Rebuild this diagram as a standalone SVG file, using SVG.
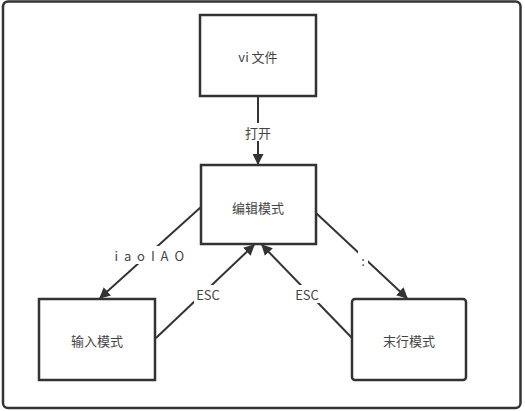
<svg xmlns="http://www.w3.org/2000/svg" width="525" height="411" viewBox="0 0 525 411">
<defs>
<style>
.box{fill:#fff;stroke:#333;stroke-width:2.5}
.t{font-family:"Microsoft YaHei","Noto Sans CJK SC",sans-serif;font-size:13px;fill:#444;text-anchor:middle;dominant-baseline:central}
.e{stroke:#333;stroke-width:2;fill:none;marker-end:url(#ah)}
.lb{fill:#fff}
</style>
<marker id="ah" viewBox="0 0 10 10" refX="9" refY="5" markerWidth="5.5" markerHeight="5.5" orient="auto" markerUnits="strokeWidth">
<path d="M0,0 L10,5 L0,10 Z" fill="#333"/>
</marker>
</defs>
<rect width="525" height="411" fill="#fff"/>
<rect x="3" y="1.5" width="517.5" height="406.5" rx="5" fill="#fff" stroke="#333" stroke-width="2.5"/>
<g id="connectors">
<line class="e" x1="258" y1="96" x2="258" y2="164"/>
<rect class="lb" x="242" y="123" width="32" height="18"/>
<text class="t" x="258" y="132">打开</text>
<line class="e" x1="201" y1="207" x2="100" y2="298"/>
<rect class="lb" x="114" y="246" width="72" height="18"/>
<text class="t" x="150" y="255" letter-spacing="1.5">i a o I A O</text>
<line class="e" x1="156" y1="338" x2="254" y2="245"/>
<rect class="lb" x="194" y="285" width="28" height="18"/>
<text class="t" x="208" y="294">ESC</text>
<line class="e" x1="316" y1="213" x2="407" y2="298"/>
<rect class="lb" x="358" y="251" width="10" height="18"/>
<text class="t" x="363" y="260">:</text>
<line class="e" x1="352" y1="338" x2="262" y2="245"/>
<rect class="lb" x="293" y="285" width="28" height="18"/>
<text class="t" x="307" y="294">ESC</text>
</g>
<g id="vi"><rect class="box" x="200" y="15" width="116" height="81"/><text class="t" x="258" y="56">vi 文件</text></g>
<g id="edit"><rect class="box" x="201" y="165" width="115" height="79"/><text class="t" x="258" y="207">编辑模式</text></g>
<g id="input"><rect class="box" x="39" y="299" width="116" height="81"/><text class="t" x="97" y="340">输入模式</text></g>
<g id="lastline"><rect class="box" x="352" y="299" width="114" height="81" rx="3"/><text class="t" x="409" y="340">末行模式</text></g>
</svg>
